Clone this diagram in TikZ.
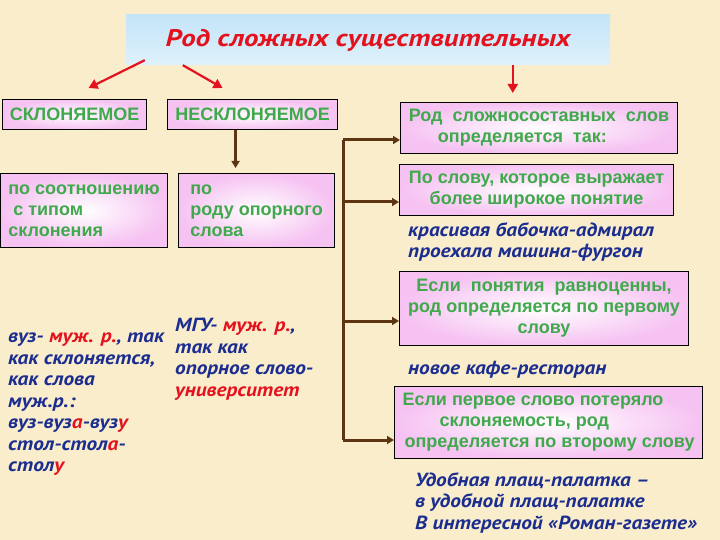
\documentclass[tikz,border=0pt]{standalone}
\usepackage{fontspec}
\setmainfont{Liberation Sans}
\newfontfamily\ptsans[FakeStretch=1.12]{PT Sans}
\newfontfamily\pttitle[FakeStretch=1.2]{PT Sans}
\usetikzlibrary{arrows.meta,positioning,calc}
\definecolor{Cream}{HTML}{FAEDCC}
\definecolor{BoxPink}{HTML}{F6C2F2}
\definecolor{TitleBlue}{HTML}{C4E5F8}
\definecolor{TG}{HTML}{3FA94B}
\definecolor{TB}{HTML}{1B2D8F}
\definecolor{TR}{HTML}{E3121E}
\definecolor{Brown}{HTML}{5E3512}
\newcommand{\rd}[1]{\textcolor{TR}{#1}}

\begin{document}
\begin{tikzpicture}[x=1pt,y=-1pt,
  kbox/.style={draw=black,line width=1.1pt,inner color=white,outer color=BoxPink,
    anchor=north west,inner sep=0pt,align=left,text=TG,
    font=\fontsize{18}{21}\selectfont\bfseries},
  ex/.style={anchor=north west,inner sep=0pt,align=left,text=TB,
    font=\ptsans\fontsize{19}{21.5}\selectfont\bfseries\itshape},
  redarr/.style={draw=TR,line width=2.2pt,-{Triangle[length=9pt,width=10pt]}},
  brarr/.style={draw=Brown,line width=3pt,-{Triangle[length=7pt,width=8pt]}}]
\fill[Cream] (0,0) rectangle (720,540);
\useasboundingbox (0,0) rectangle (720,540);

% title
\node[top color=TitleBlue,bottom color=TitleBlue!55!white,minimum width=484pt,minimum height=50pt,
  text=TR,font=\pttitle\fontsize{24}{28}\selectfont\bfseries\itshape] (title) at (368,40)
  {Род сложных существительных};

% left side
\node[kbox,minimum width=144pt,minimum height=30pt] (skl) at (2,99) {СКЛОНЯЕМОЕ};
\node[kbox,minimum width=170pt,minimum height=30pt] (nskl) at (167,99) {НЕСКЛОНЯЕМОЕ};
\node[kbox,minimum width=167pt,minimum height=74pt] (pr1) at (0,173)
  {по соотношению\\\hspace*{5pt}с типом\\склонения};
\node[kbox,minimum width=156pt,minimum height=74pt] (pr2) at (178,173)
  {по\\роду опорного\\слова};

\node[ex] (ex1) at (8,333) {вуз- \rd{муж. р.}, так\\как склоняется,\\как слова\\муж.р.:\\
  вуз-вуз\rd{а}-вуз\rd{у}\\стол-стол\rd{а}-\\стол\rd{у}};
\node[ex] (ex2) at (175,318) {МГУ- \rd{муж. р.},\\так как\\опорное слово-\\\rd{университет}};

% right side
\node[kbox,minimum width=277pt,minimum height=51pt] (rule1) at (400,102)
  {Род~ сложносоставных~ слов\\\hspace*{29pt}определяется~ так:};
\node[kbox,minimum width=274pt,minimum height=51pt,align=center] (rule2) at (399,164)
  {По слову, которое выражает\\более широкое понятие};
\node[kbox,minimum width=289pt,minimum height=74pt,align=center] (rule3) at (399,271)
  {Если~ понятия~ равноценны,\\род определяется по первому\\слову};
\node[kbox,minimum width=308pt,minimum height=72pt] (rule4) at (394,386)
  {Если первое слово потеряло\\\hspace*{37pt}склоняемость, род\\\hspace*{2pt}определяется по второму слову};

\node[ex] (ex3) at (408,222) {красивая бабочка-адмирал\\проехала машина-фургон};
\node[ex] (ex4) at (408,361) {новое кафе-ресторан};
\node[ex] (ex5) at (415,472) {Удобная плащ-палатка –\\в удобной плащ-палатке\\В интересной «Роман-газете»};

% arrows
\draw[redarr] ($(title.south west)+(19,-5)$) -- ($(skl.north)+(14,-11)$);
\draw[redarr] ($(title.south west)+(57,0)$) -- ($(nskl.north)+(-30,-11)$);
\coordinate (a3) at ($(title.south west)+(387,0)$);
\draw[redarr] (a3) -- ($(a3 |- rule1.north)+(0,-9)$);
\coordinate (a4) at ($(nskl.south)+(-17,0)$);
\draw[brarr] (a4) -- ($(a4 |- pr2.north)+(0,-5)$);

\coordinate (j1) at (343,140);
\coordinate (j2) at (343,202);
\coordinate (j3) at (343,321);
\coordinate (j4) at (343,440);
\draw[Brown,line width=3pt] (j1) -- (j4);
\foreach \j/\r in {j1/rule1,j2/rule2,j3/rule3,j4/rule4}
  \draw[brarr] (\j) -- (\j -| \r.west);
\end{tikzpicture}
\end{document}
